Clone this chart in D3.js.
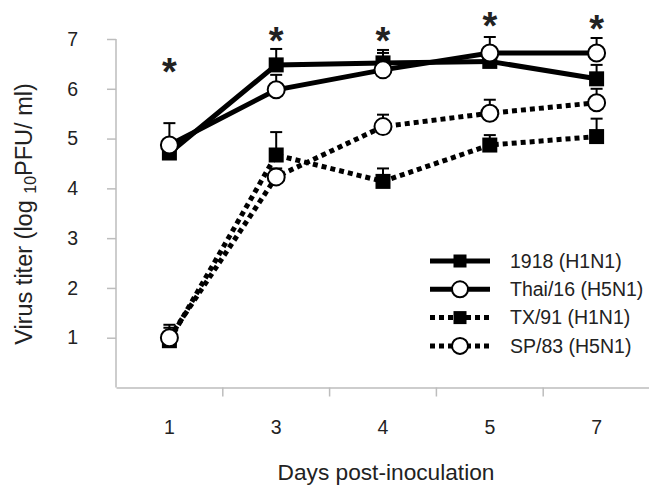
<!DOCTYPE html>
<html>
<head>
<meta charset="utf-8">
<script src="https://cdn.jsdelivr.net/npm/d3@7"></script>
<style>
  body { margin: 0; background: #fff; }
  text { font-family: "Liberation Sans", Arial, sans-serif; fill: #222; }
</style>
</head>
<body>
<svg id="chart" width="649" height="486"></svg>
<script>
// days on the x axis
const days = ["1", "3", "4", "5", "7"];
const yTicks = [1, 2, 3, 4, 5, 6, 7];

// mean titers and upper error (sd) per strain
const h1n1_1918 = [4.71, 6.48, 6.52, 6.55, 6.2];
const h1n1_1918Err = [0.15, 0.32, 0.26, 0.12, 0.28];
const thai16 = [4.87, 5.98, 6.38, 6.72, 6.72];
const thai16Err = [0.44, 0.3, 0.34, 0.32, 0.3];
const tx91 = [0.94, 4.67, 4.14, 4.87, 5.04];
const tx91Err = [0.26, 0.46, 0.26, 0.2, 0.36];
const sp83 = [1.0, 4.23, 5.24, 5.51, 5.72];
const sp83Err = [0.26, 0.17, 0.24, 0.27, 0.28];

// asterisk heights (in titer units)
const starDays = ["1", "3", "4", "5", "7"];
const starLevels = [6.53, 7.15, 7.15, 7.45, 7.39];

const seriesNames = ["1918 (H1N1)", "Thai/16 (H5N1)", "TX/91 (H1N1)", "SP/83 (H5N1)"];

const series = [
    {name: seriesNames[0], values: h1n1_1918, err: h1n1_1918Err, marker: "square", dotted: false},
    {name: seriesNames[1], values: thai16, err: thai16Err, marker: "circle", dotted: false},
    {name: seriesNames[2], values: tx91, err: tx91Err, marker: "square", dotted: true},
    {name: seriesNames[3], values: sp83, err: sp83Err, marker: "circle", dotted: true}
];

const axisColor = "#bdbdbd";
const svg = d3.select("#chart");

const x = d3.scaleBand().domain(days).range([116, 650]).padding(0);
const y = d3.scaleLinear().domain([0, 7]).range([387.5, 39]);
const cx = (d) => x(d) + x.bandwidth() / 2;

// y axis
const yAxis = svg.append("g")
    .attr("transform", "translate(116,0)")
    .call(d3.axisLeft(y).tickValues(yTicks).tickFormat(d3.format("d"))
        .tickSize(9).tickPadding(29).tickSizeOuter(0));
yAxis.select(".domain").attr("stroke", axisColor).attr("stroke-width", 1.5)
    .attr("d", `M0,${y(7)}V${y(0)}`);
yAxis.selectAll(".tick line").attr("stroke", axisColor).attr("stroke-width", 1.5);
yAxis.selectAll(".tick text").style("font-size", "19.5px").attr("fill", "#222");

// x axis, labels at category centres, ticks between categories
const xAxis = svg.append("g")
    .attr("transform", `translate(0,${y(0)})`)
    .call(d3.axisBottom(x).tickSize(0).tickPadding(33).tickSizeOuter(0));
xAxis.select(".domain").attr("stroke", axisColor).attr("stroke-width", 1.5);
xAxis.selectAll(".tick text").style("font-size", "19.5px").attr("fill", "#222");
xAxis.selectAll(".sep")
    .data(days.slice(1))
    .enter()
    .append("line")
    .attr("x1", (d) => x(d))
    .attr("x2", (d) => x(d))
    .attr("y1", 0)
    .attr("y2", 9)
    .attr("stroke", axisColor)
    .attr("stroke-width", 1.5);

// axis titles
svg.append("text")
    .attr("x", 386)
    .attr("y", 480)
    .attr("text-anchor", "middle")
    .style("font-size", "22.7px")
    .text("Days post-inoculation");

const yTitle = svg.append("text")
    .attr("transform", "translate(32,214) rotate(-90)")
    .attr("text-anchor", "middle")
    .style("font-size", "23.5px");
yTitle.append("tspan").text("Virus titer (log ");
yTitle.append("tspan").attr("dy", 4).style("font-size", "16px").text("10");
yTitle.append("tspan").attr("dy", -4).text("PFU/ ml)");

// lines, error bars and markers
const line = d3.line()
    .x((d, i) => cx(days[i]))
    .y((d) => y(d));

function drawMarker(g, type, px, py, size) {
    if (type === "square") {
        g.append("rect")
            .attr("x", px - size / 2)
            .attr("y", py - size / 2)
            .attr("width", size)
            .attr("height", size)
            .attr("fill", "#000");
    } else {
        g.append("circle")
            .attr("cx", px)
            .attr("cy", py)
            .attr("r", size / 2)
            .attr("fill", "#fff")
            .attr("stroke", "#000")
            .attr("stroke-width", 2);
    }
}

series.forEach((s) => {
    const g = svg.append("g");
    g.append("path")
        .datum(s.values)
        .attr("fill", "none")
        .attr("stroke", "#000")
        .attr("stroke-width", 5)
        .attr("stroke-dasharray", s.dotted ? "5,4" : null)
        .attr("d", line);

    s.values.forEach((v, i) => {
        const px = cx(days[i]);
        const top = y(v + s.err[i]);
        g.append("line")
            .attr("x1", px).attr("x2", px)
            .attr("y1", y(v)).attr("y2", top)
            .attr("stroke", "#000").attr("stroke-width", 2);
        g.append("line")
            .attr("x1", px - 6).attr("x2", px + 6)
            .attr("y1", top).attr("y2", top)
            .attr("stroke", "#000").attr("stroke-width", 2);
        drawMarker(g, s.marker, px, y(v), s.marker === "square" ? 15 : 17);
    });
});

// significance marks
svg.selectAll(".star")
    .data(starDays)
    .enter()
    .append("text")
    .attr("x", (d) => cx(d))
    .attr("y", (d, i) => y(starLevels[i]))
    .attr("dy", "0.6em")
    .attr("text-anchor", "middle")
    .style("font-size", "38px")
    .style("font-weight", "bold")
    .attr("fill", "#111")
    .text("*");

// legend
const legend = svg.append("g");
series.forEach((s, i) => {
    const ly = 261 + i * 28.3;
    legend.append("line")
        .attr("x1", 430).attr("x2", 490)
        .attr("y1", ly).attr("y2", ly)
        .attr("stroke", "#000")
        .attr("stroke-width", 5)
        .attr("stroke-dasharray", s.dotted ? "5,4" : null);
    const mg = legend.append("g");
    drawMarker(mg, s.marker, 460, ly, s.marker === "square" ? 13 : 16);
    legend.append("text")
        .attr("x", 510)
        .attr("y", ly)
        .attr("dy", "0.35em")
        .style("font-size", "19.5px")
        .text(s.name);
});
</script>
</body>
</html>
